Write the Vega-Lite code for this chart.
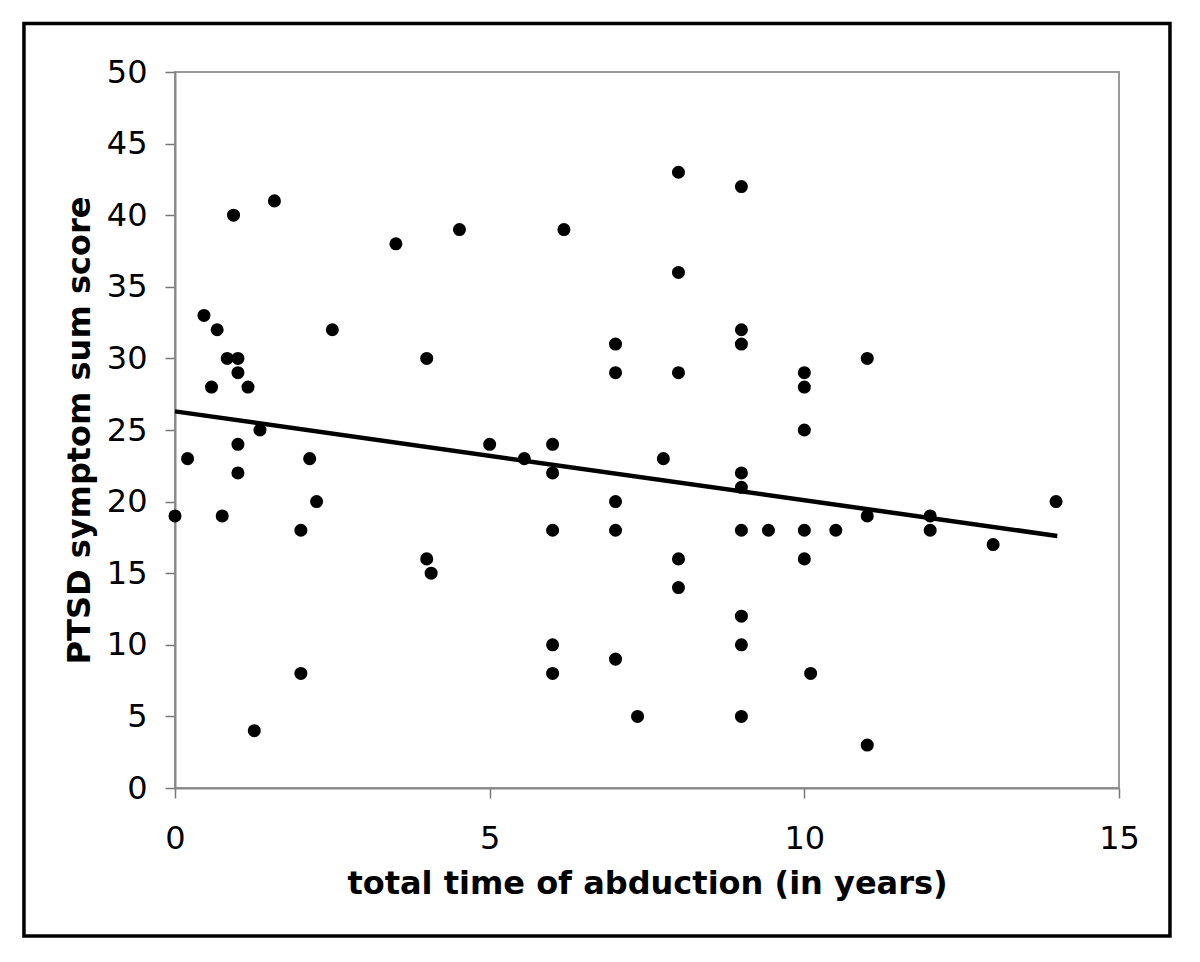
{
  "$schema": "https://vega.github.io/schema/vega-lite/v6.json",
  "width": 944,
  "height": 716,
  "autosize": {"type": "none"},
  "padding": {"left": 175, "top": 72, "right": 81, "bottom": 174},
  "background": "white",
  "config": {
    "view": {"stroke": "#999999", "strokeWidth": 2},
    "font": "DejaVu Sans",
    "axis": {
      "grid": false,
      "labelFlush": false,
      "domainColor": "#888888", "domainWidth": 2,
      "tickColor": "#777777", "tickSize": 10, "tickWidth": 1.5,
      "labelFontSize": 32, "labelColor": "black", "labelFont": "DejaVu Sans",
      "titleFontSize": 32, "titleFontWeight": "bold", "titleColor": "black",
      "titleFont": "DejaVu Sans"
    }
  },
  "datasets": {
    "points": [
      {"time": 0, "score": 19}, {"time": 0.2, "score": 23}, {"time": 0.46, "score": 33},
      {"time": 0.58, "score": 28}, {"time": 0.67, "score": 32}, {"time": 0.75, "score": 19},
      {"time": 0.83, "score": 30}, {"time": 0.93, "score": 40}, {"time": 1.0, "score": 30},
      {"time": 1.0, "score": 29}, {"time": 1.0, "score": 24}, {"time": 1.0, "score": 22},
      {"time": 1.16, "score": 28}, {"time": 1.26, "score": 4}, {"time": 1.35, "score": 25},
      {"time": 1.58, "score": 41}, {"time": 2.0, "score": 18}, {"time": 2.0, "score": 8},
      {"time": 2.14, "score": 23}, {"time": 2.25, "score": 20}, {"time": 2.5, "score": 32},
      {"time": 3.51, "score": 38}, {"time": 4.0, "score": 30}, {"time": 4.0, "score": 16},
      {"time": 4.07, "score": 15}, {"time": 4.52, "score": 39}, {"time": 5.0, "score": 24},
      {"time": 5.55, "score": 23}, {"time": 6.0, "score": 24}, {"time": 6.0, "score": 22},
      {"time": 6.0, "score": 18}, {"time": 6.0, "score": 10}, {"time": 6.0, "score": 8},
      {"time": 6.18, "score": 39}, {"time": 7.0, "score": 31}, {"time": 7.0, "score": 29},
      {"time": 7.0, "score": 20}, {"time": 7.0, "score": 18}, {"time": 7.0, "score": 9},
      {"time": 7.35, "score": 5}, {"time": 7.76, "score": 23}, {"time": 8.0, "score": 43},
      {"time": 8.0, "score": 36}, {"time": 8.0, "score": 29}, {"time": 8.0, "score": 16},
      {"time": 8.0, "score": 14}, {"time": 9.0, "score": 42}, {"time": 9.0, "score": 32},
      {"time": 9.0, "score": 31}, {"time": 9.0, "score": 22}, {"time": 9.0, "score": 21},
      {"time": 9.0, "score": 18}, {"time": 9.0, "score": 12}, {"time": 9.0, "score": 10},
      {"time": 9.0, "score": 5}, {"time": 9.43, "score": 18}, {"time": 10.0, "score": 29},
      {"time": 10.0, "score": 28}, {"time": 10.0, "score": 25}, {"time": 10.0, "score": 18},
      {"time": 10.0, "score": 16}, {"time": 10.1, "score": 8}, {"time": 10.5, "score": 18},
      {"time": 11.0, "score": 30}, {"time": 11.0, "score": 19}, {"time": 11.0, "score": 3},
      {"time": 12.0, "score": 19}, {"time": 12.0, "score": 18}, {"time": 13.0, "score": 17},
      {"time": 14.0, "score": 20}
    ],
    "fit": [
      {"time": 0, "score": 26.3},
      {"time": 14.02, "score": 17.6}
    ]
  },
  "layer": [
    {
      "data": {"name": "points"},
      "mark": {"type": "point", "filled": true, "color": "black", "opacity": 1, "size": 170, "clip": false},
      "encoding": {
        "x": {
          "field": "time", "type": "quantitative",
          "scale": {"domain": [0, 15], "nice": false, "zero": false},
          "title": "total time of abduction (in years)",
          "axis": {"values": [0, 5, 10, 15], "format": "d", "labelFlush": false, "labelPadding": 25, "titlePadding": 14}
        },
        "y": {
          "field": "score", "type": "quantitative",
          "scale": {"domain": [0, 50], "nice": false, "zero": false},
          "title": "PTSD symptom sum score",
          "axis": {"values": [0, 5, 10, 15, 20, 25, 30, 35, 40, 45, 50], "format": "d", "labelFlush": false, "labelPadding": 18, "titlePadding": 10}
        }
      }
    },
    {
      "data": {"name": "fit"},
      "mark": {"type": "line", "color": "black", "strokeWidth": 4.5},
      "encoding": {
        "x": {"field": "time", "type": "quantitative", "scale": {"domain": [0, 15], "nice": false, "zero": false}, "title": "total time of abduction (in years)"},
        "y": {"field": "score", "type": "quantitative", "scale": {"domain": [0, 50], "nice": false, "zero": false}, "title": "PTSD symptom sum score"}
      }
    },
    {
      "data": {"values": [{}]},
      "mark": {"type": "rect", "fill": null, "stroke": "black", "strokeWidth": 3.5, "clip": false},
      "encoding": {
        "x": {"datum": -2.4, "type": "quantitative", "scale": {"domain": [0, 15], "nice": false, "zero": false}, "title": "total time of abduction (in years)"},
        "x2": {"datum": 15.81},
        "y": {"datum": 53.38, "type": "quantitative", "scale": {"domain": [0, 50], "nice": false, "zero": false}, "title": "PTSD symptom sum score"},
        "y2": {"datum": -10.33}
      }
    }
  ]
}
